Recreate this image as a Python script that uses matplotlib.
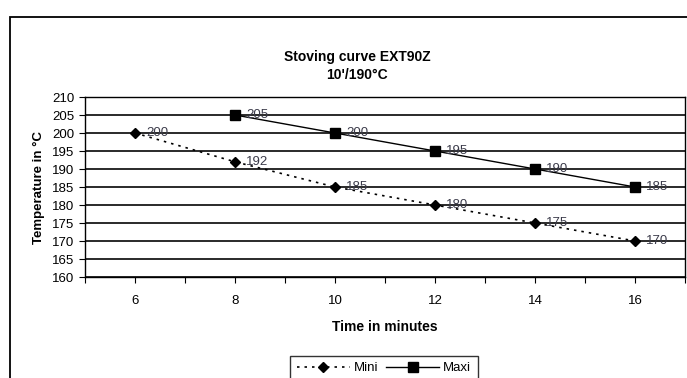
import matplotlib.pyplot as plt
from matplotlib.patches import Rectangle

plt.rcParams['font.family'] = ['Liberation Sans', 'DejaVu Sans']

##data
mini_x = [6, 8, 10, 12, 14, 16]
mini_y = [200, 192, 185, 180, 175, 170]
maxi_x = [8, 10, 12, 14, 16]
maxi_y = [205, 200, 195, 190, 185]
x_labels = [6, 8, 10, 12, 14, 16]

##figure
fig = plt.figure(figsize=(6.87, 3.78), dpi=100)
ax = fig.add_axes([85/687, 1-277/378, 600/687, 180/378])

# outer chart frame (runs off the right/bottom of the image)
fig.patches.append(Rectangle((10/687, -0.2), 1.2, 0.2 + (1-17/378),
                             transform=fig.transFigure, fill=False,
                             edgecolor='black', lw=1.3))

##lines
ax.plot(mini_x, mini_y, color='black', ls=(0, (1.5, 3)), lw=1.2,
        marker='D', ms=5.5, label='Mini', zorder=3)
ax.plot(maxi_x, maxi_y, color='black', ls='-', lw=1.0,
        marker='s', ms=6.5, label='Maxi', zorder=3)

lab_col = '#3b3b4a'
for x, y in zip(mini_x, mini_y):
    ax.annotate(str(y), (x, y), xytext=(8, 0), textcoords='offset points',
                va='center', ha='left', fontsize=9.5, color=lab_col)
for x, y in zip(maxi_x, maxi_y):
    ax.annotate(str(y), (x, y), xytext=(8, 0), textcoords='offset points',
                va='center', ha='left', fontsize=9.5, color=lab_col)

##axes
ax.set_xlim(5, 17)
ax.set_ylim(160, 210)
ax.set_xticks(range(5, 18))
ax.set_xticklabels(['' if t not in x_labels else str(t) for t in range(5, 18)])
ax.set_yticks(range(160, 211, 5))
ax.yaxis.grid(True, color='#2a2a2a', lw=1.4)
ax.set_axisbelow(True)
for s in ax.spines.values():
    s.set_color('black')
    s.set_linewidth(1.0)
ax.tick_params(axis='both', direction='out', length=4, width=0.8,
               labelsize=9.5, colors='black')
ax.tick_params(axis='x', pad=9)

ax.set_xlabel('Time in minutes', fontsize=10, fontweight='bold', labelpad=9)
ax.set_ylabel('Temperature in °C', fontsize=9.5, fontweight='bold', labelpad=5)

fig.text(357/687, 1-57/378, 'Stoving curve EXT90Z', ha='center', va='center',
         fontsize=10, fontweight='bold')
fig.text(357/687, 1-75/378, "10'/190°C", ha='center', va='center',
         fontsize=10, fontweight='bold')

leg = fig.legend(loc='upper center', bbox_to_anchor=(384/687, 1-349/378),
                 ncol=2, fontsize=9.5, frameon=True, fancybox=False,
                 handlelength=4, columnspacing=0.6, handletextpad=0.3,
                 borderpad=0.5)
leg.get_frame().set_edgecolor('black')
leg.get_frame().set_linewidth(1.0)

fig.savefig('out.png', dpi=100)
